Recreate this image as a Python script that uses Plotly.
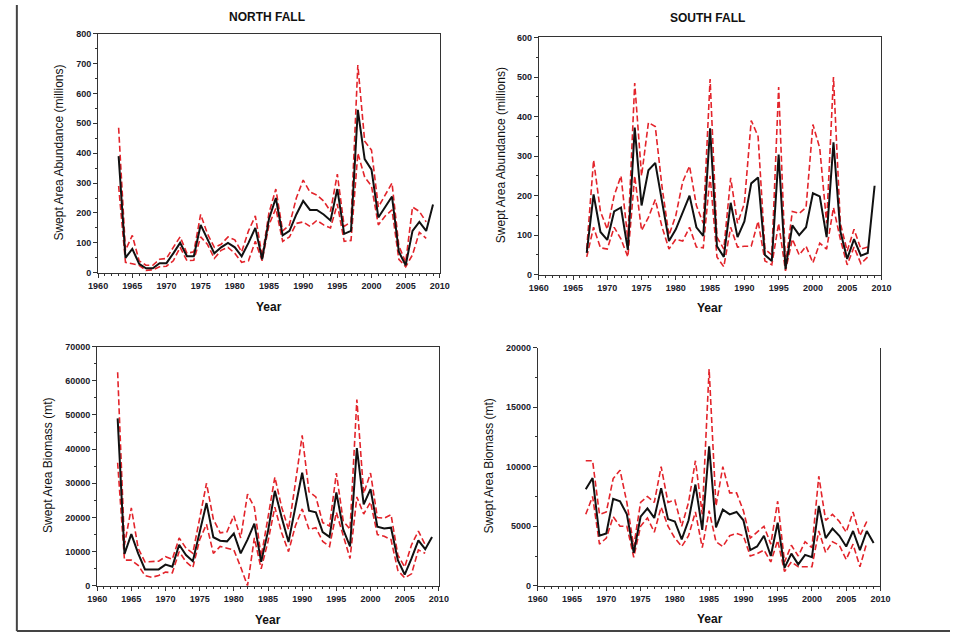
import plotly.graph_objects as go

# ---------------- DATA ----------------
nf_years = list(range(1963, 2010))
nf_abund_mean = [390, 50, 80, 30, 15, 15, 32, 32, 65, 100, 55, 55, 160, 110, 65, 85, 100, 85, 55, 100, 150, 45, 180, 250, 125, 140, 195, 240, 210, 210, 195, 175, 280, 130, 140, 545, 380, 345, 185, 220, 255, 70, 25, 140, 170, 140, 228]
nf_abund_upper = [485, 75, 125, 40, 25, 25, 45, 48, 85, 120, 65, 70, 195, 130, 85, 95, 120, 110, 70, 140, 190, 55, 200, 280, 140, 160, 250, 310, 270, 260, 240, 205, 330, 155, 170, 695, 440, 410, 220, 260, 300, 90, 35, 220, 205, 170]
nf_abund_lower = [290, 35, 30, 25, 8, 10, 20, 22, 40, 85, 40, 42, 120, 95, 48, 75, 85, 65, 35, 40, 105, 40, 160, 215, 105, 120, 165, 170, 155, 175, 160, 150, 230, 105, 108, 400, 320, 290, 160, 190, 210, 45, 20, 60, 135, 115]

sf_years = list(range(1967, 2010))
sf_abund_mean = [55, 203, 108, 88, 160, 170, 63, 372, 175, 264, 283, 180, 85, 115, 160, 200, 120, 98, 370, 72, 45, 182, 95, 135, 231, 246, 50, 35, 304, 14, 125, 100, 120, 206, 198, 95, 335, 110, 40, 90, 48, 55, 225]
sf_abund_upper = [65, 290, 160, 115, 200, 250, 90, 485, 250, 385, 375, 220, 100, 150, 235, 275, 175, 130, 495, 95, 65, 245, 130, 180, 390, 350, 65, 50, 475, 25, 160, 155, 170, 380, 320, 130, 500, 130, 60, 115, 65, 70]
sf_abund_lower = [45, 120, 68, 65, 120, 90, 45, 250, 112, 145, 190, 120, 65, 90, 85, 120, 70, 68, 250, 45, 20, 120, 70, 72, 72, 135, 35, 25, 130, 10, 90, 50, 72, 30, 80, 65, 170, 90, 25, 70, 28, 45]

nf_bio_mean = [49000, 9300, 15100, 9500, 4800, 4700, 4800, 6200, 5600, 12000, 9000, 7200, 16000, 24200, 14200, 13200, 13000, 15300, 9500, 13500, 18200, 7000, 16000, 27800, 20000, 12800, 23000, 33100, 22000, 21500, 15700, 14300, 27300, 16500, 11500, 40300, 23800, 28300, 17300, 16800, 17000, 7500, 3300, 8000, 13300, 10700, 14300]
nf_bio_upper = [62500, 12000, 22800, 11000, 7000, 7000, 7200, 8500, 7800, 14000, 11000, 9500, 20000, 30000, 19500, 15500, 15800, 20500, 14000, 26800, 23000, 8500, 20000, 31800, 23000, 16500, 30000, 44000, 27500, 26000, 18500, 17500, 33000, 19000, 16500, 54500, 27000, 33000, 20000, 19800, 20800, 9000, 5500, 12000, 16000, 12000]
nf_bio_lower = [36000, 7500, 7500, 6000, 3000, 2500, 3000, 4000, 3800, 10000, 7000, 5300, 13500, 18000, 9500, 11500, 11000, 10500, 5500, 0, 14000, 5000, 13000, 23000, 15500, 10000, 17500, 22500, 16500, 17000, 13000, 11500, 21500, 15000, 8000, 26000, 21000, 24500, 15000, 14500, 13500, 4500, 2300, 3500, 10500, 9500]

sf_bio_mean = [8100, 9050, 4200, 4400, 7300, 7100, 6000, 2760, 5800, 6500, 5700, 8200, 5600, 5400, 3900, 5500, 8500, 4700, 11700, 4900, 6400, 6000, 6200, 5500, 3000, 3300, 4200, 2500, 5300, 1500, 2700, 1800, 2600, 2400, 6700, 4000, 4800, 4200, 3300, 4600, 3000, 4600, 3600]
sf_bio_upper = [10500, 10500, 6000, 6200, 9000, 9700, 7000, 3300, 7000, 7500, 7000, 10000, 7000, 7200, 5000, 7000, 10500, 6000, 18200, 6700, 10000, 7800, 7800, 6300, 4000, 4500, 5000, 3500, 7100, 2000, 3400, 2500, 3700, 3200, 9200, 5500, 6000, 5400, 4500, 6200, 4200, 5400]
sf_bio_lower = [6000, 7500, 3500, 4000, 5800, 5000, 5000, 2400, 5000, 5700, 4500, 6600, 5000, 4000, 3300, 4200, 6200, 3200, 6300, 3700, 3300, 4200, 4400, 4200, 2500, 2700, 3000, 2000, 3800, 1200, 2000, 1600, 1600, 1600, 4600, 2800, 3700, 3400, 2200, 3500, 1600, 3600]

panel_titles = ["NORTH FALL", "SOUTH FALL"]
abund_label = "Swept Area Abundance (millions)"
bio_label = "Swept Area Biomass (mt)"
x_label = "Year"

# ---------------- FIGURE ----------------
W, H = 960, 641
RED = "#e3242b"
FONT = "Liberation Sans"

fig = go.Figure()

panels = [
    ("", nf_years, nf_abund_mean, nf_abund_upper, nf_abund_lower, (90, 439), (29, 272), (0, 800), 100, 50, True),
    ("2", sf_years, sf_abund_mean, sf_abund_upper, sf_abund_lower, (540, 890), (33, 274), (0, 600), 100, 50, True),
    ("3", nf_years, nf_bio_mean, nf_bio_upper, nf_bio_lower, (89, 438), (347, 590), (0, 70000), 10000, 5000, True),
    ("4", sf_years, sf_bio_mean, sf_bio_upper, sf_bio_lower, (539, 889), (348, 590), (0, 20000), 5000, 2500, False),
]

for (aid, yrs, mean, up, lo, xp, yp, yr, dt, mdt, top) in panels:
    xa = "x" + aid
    ya = "y" + aid
    fig.add_trace(go.Scatter(x=yrs[:len(up)], y=up, mode="lines", xaxis=xa, yaxis=ya,
                             line=dict(color=RED, width=1.6, dash="6px,3px"), showlegend=False))
    fig.add_trace(go.Scatter(x=yrs[:len(lo)], y=lo, mode="lines", xaxis=xa, yaxis=ya,
                             line=dict(color=RED, width=1.6, dash="6px,3px"), showlegend=False))
    fig.add_trace(go.Scatter(x=yrs, y=mean, mode="lines", xaxis=xa, yaxis=ya,
                             line=dict(color="#111111", width=2), showlegend=False))
    xdom = [xp[0] / W, xp[1] / W]
    ydom = [(H - yp[1]) / H, (H - yp[0]) / H]
    tickfont = dict(family=FONT, size=9, color="#1a1a2a", weight="bold")
    fig.update_layout(**{
        "xaxis" + aid: dict(domain=xdom, range=[1960, 2010], dtick=5, tick0=1960, tickformat="d",
                   showgrid=False, zeroline=False, showline=True, linecolor="#333",
                   linewidth=1, mirror=top, ticks="outside", ticklen=4, tickcolor="#333",
                   minor=dict(dtick=1, ticks="outside", ticklen=2, tickcolor="#333"),
                   tickfont=tickfont, anchor=ya, fixedrange=True),
        "yaxis" + aid: dict(domain=ydom, range=list(yr), dtick=dt, tickformat="d",
                   showgrid=False, zeroline=False,
                   showline=True, linecolor="#333", linewidth=1, mirror=True,
                   ticks="outside", ticklen=4, tickcolor="#333",
                   minor=dict(dtick=mdt, ticks="outside", ticklen=2, tickcolor="#333"),
                   tickfont=tickfont, anchor=xa, fixedrange=True),
    })

ann = []
def add_text(text, x, y, size, bold=False, angle=0):
    ann.append(dict(text=text, x=x / W, y=(H - y) / H, xref="paper", yref="paper",
                    showarrow=False, textangle=angle, xanchor="center", yanchor="middle",
                    font=dict(family=FONT, size=size, color="#111",
                              weight="bold" if bold else "normal")))

add_text(panel_titles[0], 262, 12, 12, bold=True)
add_text(panel_titles[1], 712, 13, 12, bold=True)
add_text(abund_label, 50, 150, 12, angle=-90)
add_text(abund_label, 501, 153, 12, angle=-90)
add_text(bio_label, 39, 468, 12, angle=-90)
add_text(bio_label, 489, 468, 12, angle=-90)
add_text(x_label, 264, 307, 12, bold=True)
add_text(x_label, 715, 308, 12, bold=True)
add_text(x_label, 263, 625, 12, bold=True)
add_text(x_label, 715, 624, 12, bold=True)

shapes = [
    dict(type="line", xref="paper", yref="paper", x0=7 / W, x1=7 / W, y0=(H - 636) / H, y1=1,
         line=dict(color="#444", width=2)),
    dict(type="line", xref="paper", yref="paper", x0=7 / W, x1=1, y0=(H - 636) / H, y1=(H - 636) / H,
         line=dict(color="#444", width=2)),
]

fig.update_layout(width=W, height=H, margin=dict(l=0, r=0, t=0, b=0),
                  paper_bgcolor="white", plot_bgcolor="white",
                  annotations=ann, shapes=shapes, showlegend=False)

fig.write_html("out.html")
